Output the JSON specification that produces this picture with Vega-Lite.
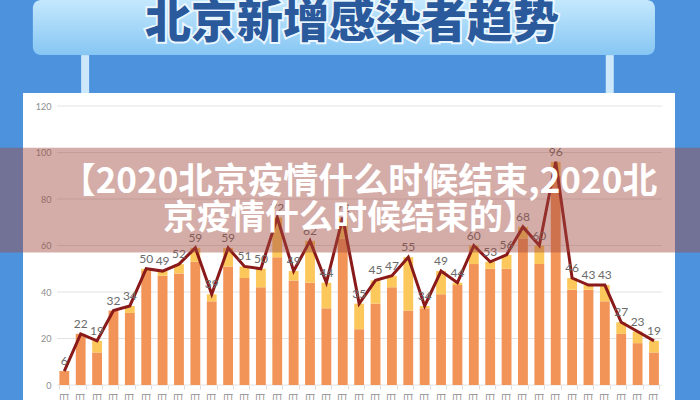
{
  "$schema": "https://vega.github.io/schema/vega-lite/v6.json",
  "autosize": {"type": "none"},
  "width": 652,
  "height": 307,
  "padding": {"left": 23, "top": 93, "right": 25, "bottom": 0},
  "background": "#4d92dc",
  "view": {"fill": "white", "stroke": null},
  "config": {"font": "Noto Sans CJK SC"},
  "datasets": {
    "daily": [
      {"date": "4月22日", "confirmed": 6, "asymptomatic": 0, "total": 6},
      {"date": "4月23日", "confirmed": 22, "asymptomatic": 0, "total": 22},
      {"date": "4月24日", "confirmed": 14, "asymptomatic": 5, "total": 19},
      {"date": "4月25日", "confirmed": 32, "asymptomatic": 0, "total": 32},
      {"date": "4月26日", "confirmed": 31, "asymptomatic": 3, "total": 34},
      {"date": "4月27日", "confirmed": 49, "asymptomatic": 1, "total": 50},
      {"date": "4月28日", "confirmed": 47, "asymptomatic": 2, "total": 49},
      {"date": "4月29日", "confirmed": 48, "asymptomatic": 4, "total": 52},
      {"date": "4月30日", "confirmed": 53, "asymptomatic": 6, "total": 59},
      {"date": "5月1日", "confirmed": 36, "asymptomatic": 3, "total": 39},
      {"date": "5月2日", "confirmed": 51, "asymptomatic": 8, "total": 59},
      {"date": "5月3日", "confirmed": 46, "asymptomatic": 5, "total": 51},
      {"date": "5月4日", "confirmed": 42, "asymptomatic": 8, "total": 50},
      {"date": "5月5日", "confirmed": 55, "asymptomatic": 17, "total": 72},
      {"date": "5月6日", "confirmed": 45, "asymptomatic": 4, "total": 49},
      {"date": "5月7日", "confirmed": 44, "asymptomatic": 18, "total": 62},
      {"date": "5月8日", "confirmed": 33, "asymptomatic": 11, "total": 44},
      {"date": "5月9日", "confirmed": 63, "asymptomatic": 9, "total": 72},
      {"date": "5月10日", "confirmed": 24, "asymptomatic": 11, "total": 35},
      {"date": "5月11日", "confirmed": 35, "asymptomatic": 10, "total": 45},
      {"date": "5月12日", "confirmed": 42, "asymptomatic": 5, "total": 47},
      {"date": "5月13日", "confirmed": 32, "asymptomatic": 23, "total": 55},
      {"date": "5月14日", "confirmed": 33, "asymptomatic": 1, "total": 34},
      {"date": "5月15日", "confirmed": 39, "asymptomatic": 10, "total": 49},
      {"date": "5月16日", "confirmed": 43, "asymptomatic": 1, "total": 44},
      {"date": "5月17日", "confirmed": 52, "asymptomatic": 8, "total": 60},
      {"date": "5月18日", "confirmed": 50, "asymptomatic": 3, "total": 53},
      {"date": "5月19日", "confirmed": 50, "asymptomatic": 6, "total": 56},
      {"date": "5月20日", "confirmed": 63, "asymptomatic": 5, "total": 68},
      {"date": "5月21日", "confirmed": 52, "asymptomatic": 8, "total": 60},
      {"date": "5月22日", "confirmed": 90, "asymptomatic": 6, "total": 96},
      {"date": "5月23日", "confirmed": 41, "asymptomatic": 5, "total": 46},
      {"date": "5月24日", "confirmed": 41, "asymptomatic": 2, "total": 43},
      {"date": "5月25日", "confirmed": 36, "asymptomatic": 7, "total": 43},
      {"date": "5月26日", "confirmed": 22, "asymptomatic": 5, "total": 27},
      {"date": "5月27日", "confirmed": 18, "asymptomatic": 5, "total": 23},
      {"date": "5月28日", "confirmed": 14, "asymptomatic": 5, "total": 19}
    ],
    "grid": [{"g": 0}, {"g": 20}, {"g": 40}, {"g": 60}, {"g": 80}, {"g": 100}, {"g": 120}]
  },
  "data": {"name": "daily"},
  "layer": [
    {
      "data": {"values": [{}]},
      "mark": {"type": "rect", "cornerRadius": 8, "color": {"gradient": "linear", "x1": 0, "y1": 0, "x2": 0, "y2": 1, "stops": [{"offset": 0, "color": "#c4e8fd"}, {"offset": 1, "color": "#86c6f3"}]}},
      "encoding": {
        "x": {"datum": "4月22日", "bandPosition": -2.7},
        "x2": {"datum": "5月28日", "bandPosition": 0.6},
        "y": {"datum": 165.6},
        "y2": {"datum": 141.9}
      }
    },
    {
      "data": {"values": [{}]},
      "mark": {"type": "rule", "color": "#cde8fb", "strokeWidth": 8},
      "encoding": {"x": {"datum": "4月23日", "bandPosition": 0.95}, "y": {"datum": 125.6}, "y2": {"datum": 141.9}}
    },
    {
      "data": {"values": [{}]},
      "mark": {"type": "rule", "color": "#cde8fb", "strokeWidth": 8},
      "encoding": {"x": {"datum": "5月25日", "bandPosition": 1.0}, "y": {"datum": 125.6}, "y2": {"datum": 141.9}}
    },
    {
      "data": {"values": [{}]},
      "mark": {"type": "text", "text": "北京新增感染者趋势", "fontSize": 46, "fontWeight": 900, "align": "center", "baseline": "middle", "dx": 3, "color": "#eaf6ff", "stroke": "#eaf6ff", "strokeWidth": 4},
      "encoding": {"y": {"datum": 155.7}}
    },
    {
      "data": {"values": [{}]},
      "mark": {"type": "text", "text": "北京新增感染者趋势", "fontSize": 46, "fontWeight": 900, "align": "center", "baseline": "middle", "dx": 3, "color": "#2a5a9c"},
      "encoding": {"y": {"datum": 155.7}}
    },
    {
      "data": {"name": "grid"},
      "mark": {"type": "rule", "color": "#e2e2e2", "strokeWidth": 1},
      "encoding": {
        "y": {"field": "g", "type": "quantitative"},
        "x": {"datum": "4月22日", "bandPosition": -0.25},
        "x2": {"datum": "5月28日", "bandPosition": 1.3}
      }
    },
    {
      "transform": [{"fold": ["confirmed", "asymptomatic"]}],
      "mark": {"type": "bar"},
      "encoding": {
        "x": {
          "field": "date", "type": "nominal",
          "scale": {
            "domain": ["4月22日", "4月23日", "4月24日", "4月25日", "4月26日", "4月27日", "4月28日", "4月29日", "4月30日", "5月1日", "5月2日", "5月3日", "5月4日", "5月5日", "5月6日", "5月7日", "5月8日", "5月9日", "5月10日", "5月11日", "5月12日", "5月13日", "5月14日", "5月15日", "5月16日", "5月17日", "5月18日", "5月19日", "5月20日", "5月21日", "5月22日", "5月23日", "5月24日", "5月25日", "5月26日", "5月27日", "5月28日"],
            "range": [36.4, 635.9],
            "paddingInner": 0.4, "paddingOuter": 0
          },
          "axis": {"title": null, "labelAngle": 270, "offset": -15, "domain": false, "ticks": true, "tickBand": "extent", "tickColor": "#dcdcdc", "tickSize": 4, "labelPadding": 3, "labelColor": "#8a8a8a", "labelFontSize": 10, "labelOverlap": false, "grid": false}
        },
        "y": {
          "field": "value", "type": "quantitative", "stack": "zero",
          "scale": {"domain": [-6.45, 125.6], "nice": false, "zero": false},
          "axis": {"title": null, "values": [0, 20, 40, 60, 80, 100, 120], "offset": -34, "domain": false, "ticks": false, "grid": false, "labelPadding": 6, "labelColor": "#8c8c8c", "labelFontSize": 9, "labelFont": "Lato"}
        },
        "color": {"field": "key", "type": "nominal", "scale": {"domain": ["confirmed", "asymptomatic"], "range": ["#f29457", "#fcc85c"]}, "legend": null},
        "order": {"field": "key", "sort": "descending"}
      }
    },
    {
      "mark": {"type": "line", "color": "#8a1a1a", "strokeWidth": 3},
      "encoding": {
        "x": {"field": "date", "type": "nominal", "sort": null},
        "y": {"field": "total", "type": "quantitative"}
      }
    },
    {
      "mark": {"type": "text", "dy": -10, "fontSize": 12, "color": "#6b6b6b", "font": "Lato"},
      "encoding": {
        "x": {"field": "date", "type": "nominal", "sort": null},
        "y": {"field": "total", "type": "quantitative"},
        "text": {"field": "total", "type": "quantitative"}
      }
    },
    {
      "data": {"values": [{}]},
      "mark": {"type": "rect", "color": "#a04a40", "opacity": 0.45},
      "encoding": {
        "x": {"datum": "4月22日", "bandPosition": -6.1},
        "x2": {"datum": "5月28日", "bandPosition": 5.3},
        "y": {"datum": 57},
        "y2": {"datum": 102}
      }
    },
    {
      "data": {"values": [{}]},
      "mark": {"type": "text", "text": "【2020北京疫情什么时候结束,2020北", "fontSize": 35, "fontWeight": "bold", "align": "center", "baseline": "middle", "dx": 10, "color": "white"},
      "encoding": {"y": {"datum": 87.5}}
    },
    {
      "data": {"values": [{}]},
      "mark": {"type": "text", "text": "京疫情什么时候结束的】", "fontSize": 34, "fontWeight": "bold", "align": "center", "baseline": "middle", "dx": 1, "color": "white"},
      "encoding": {"y": {"datum": 71.6}}
    }
  ]
}
